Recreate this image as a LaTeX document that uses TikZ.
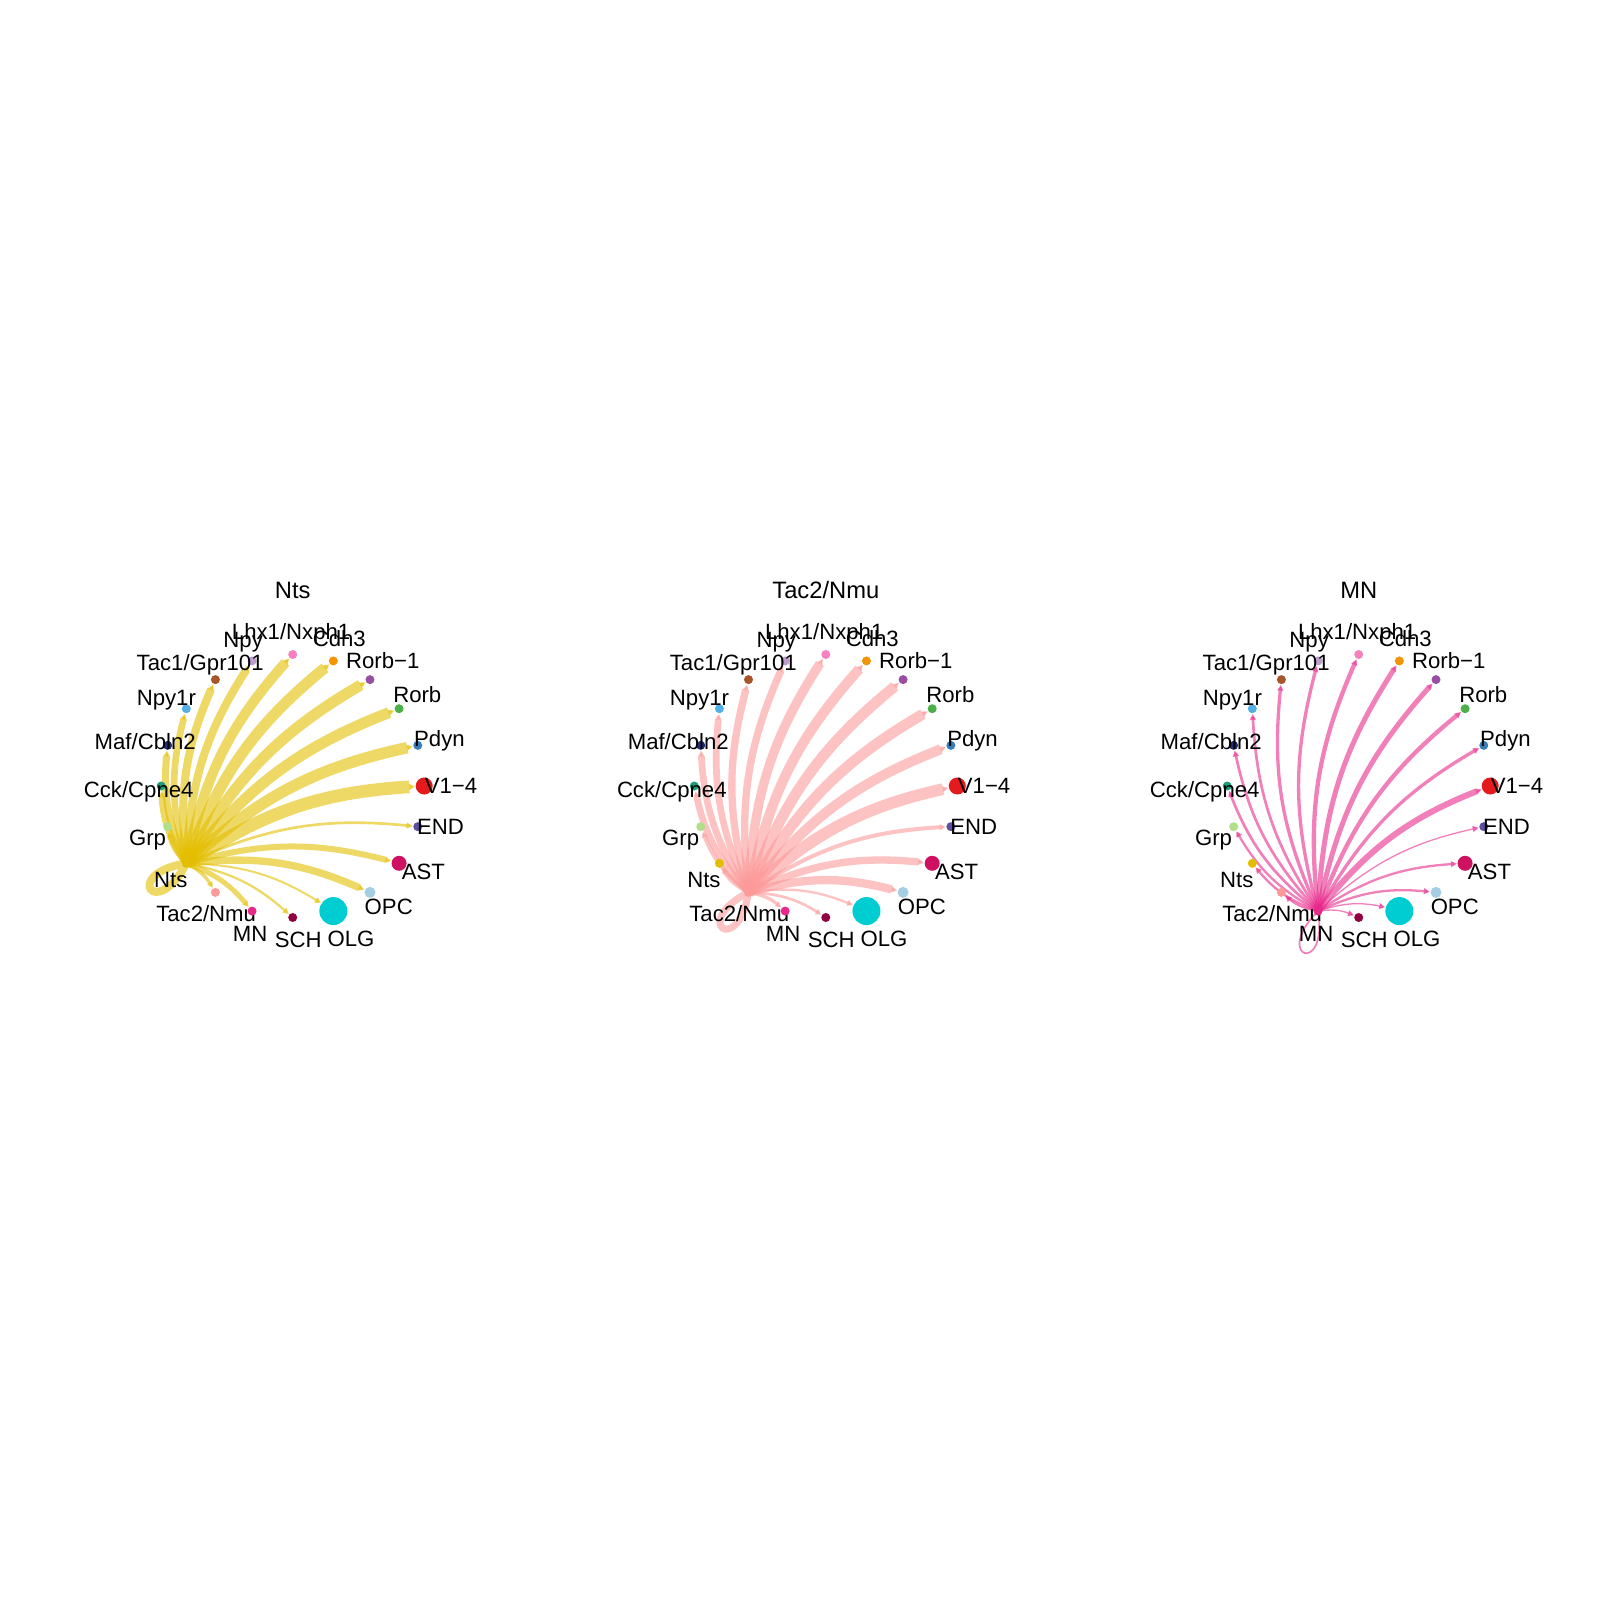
\documentclass[tikz,border=0pt]{standalone}
\usepackage{fontspec}
\setmainfont{Liberation Sans}
\usetikzlibrary{arrows.meta,backgrounds}

\definecolor{cV}{HTML}{E41A1C}
\definecolor{cPdyn}{HTML}{377EB8}
\definecolor{cRorb}{HTML}{4DAF4A}
\definecolor{cRorbI}{HTML}{984EA3}
\definecolor{cCdh}{HTML}{F29403}
\definecolor{cLhx}{HTML}{F781BF}
\definecolor{cNpy}{HTML}{BC9DCC}
\definecolor{cTacI}{HTML}{A65628}
\definecolor{cNpyr}{HTML}{54B0E4}
\definecolor{cMaf}{HTML}{222F75}
\definecolor{cCck}{HTML}{1B9E77}
\definecolor{cGrp}{HTML}{B2DF8A}
\definecolor{cNts}{HTML}{E3BE00}
\definecolor{cTacII}{HTML}{FB9A99}
\definecolor{cMN}{HTML}{E7298A}
\definecolor{cSCH}{HTML}{910241}
\definecolor{cOLG}{HTML}{00CDD1}
\definecolor{cOPC}{HTML}{A6CEE3}
\definecolor{cAST}{HTML}{CE1261}
\definecolor{cEND}{HTML}{5E4FA2}

\begin{document}
\begin{tikzpicture}[x=0.01cm, y=0.01cm,
    cell/.style={circle, inner sep=0pt, minimum size=#1*0.2845pt},
    lbl/.style={inner sep=0pt, anchor=center, label distance=5pt, text height=4.5pt, text depth=0pt, font=\fontsize{6.3}{7}\selectfont},
    ttl/.style={inner sep=0pt, text height=4.83pt, text depth=0pt, font=\fontsize{6.75}{8}\selectfont},
    link/.style={opacity=0.6, bend left=15, -{Triangle[length=1.7pt, width=1.7pt]}},
    selfloop/.style={opacity=0.6}]
  \useasboundingbox (0,0) rectangle (1600,-1600);

  % one ring per sender: centre x / sender index / title / edge colour / edge widths
  \foreach \cx/\src/\ttltext/\ecol/\wlist [count=\p] in {
      292.7/13/Nts/cNts/{12.7,11.5,11,11,11,10,8,8,6.7,7,6.7,5,8,3.3,5,2.3,2,7.3,6,2.7},
      825.8/14/{Tac2/Nmu}/cTacII/{11.7,10,10.7,10.7,10,9.3,7.3,7.3,6.7,6.7,6.7,4,4,7,3.3,2.7,2.3,8.3,7.3,4},
      1358.7/15/MN/cMN/{6,3.3,4.3,5,5,4.3,3.3,3.3,2.7,2.7,2.7,2.3,2.3,2,1.7,1.3,1.3,2.3,2.3,1.3}} {
    \begin{scope}[shift={(\cx,-786)}]
      \node[ttl] (title\p) at (0,196) {\ttltext};
      \foreach \lab/\col/\sz [count=\i] in {V1−4/cV/17, Pdyn/cPdyn/9, Rorb/cRorb/9, Rorb−1/cRorbI/9,
          Cdh3/cCdh/9, {Lhx1/Nxph1}/cLhx/9, Npy/cNpy/9, {Tac1/Gpr101}/cTacI/9, Npy1r/cNpyr/9,
          {Maf/Cbln2}/cMaf/9, {Cck/Cpne4}/cCck/9, Grp/cGrp/9, Nts/cNts/9, {Tac2/Nmu}/cTacII/9,
          MN/cMN/9, SCH/cSCH/9, OLG/cOLG/28, OPC/cOPC/11, AST/cAST/15, END/cEND/9} {
        \pgfmathsetmacro\na{(\i-1)*18}
        \pgfmathsetmacro\la{(\i-1)*360/19}
        \node[cell=\sz, fill=\col, label={[lbl]\la:\lab}] (n\p-\i) at (\na:131.5) {};
      }
    \end{scope}
    \begin{pgfonlayer}{background}
      \foreach \w [count=\t] in \wlist {
        \ifnum\t=\src
          \pgfmathsetmacro\lo{(\t-1)*18+27}
          \pgfmathsetmacro\li{(\t-1)*18-27}
          \draw[selfloop, draw=\ecol, line width=\w*0.2845pt] (n\p-\t.center)
            .. controls +(\lo:66) and +(\li:66) .. (n\p-\t.center);
        \else
          \draw[link, draw=\ecol, line width=\w*0.2845pt] (n\p-\src.center) to (n\p-\t);
        \fi
      }
    \end{pgfonlayer}
  }
\end{tikzpicture}
\end{document}
